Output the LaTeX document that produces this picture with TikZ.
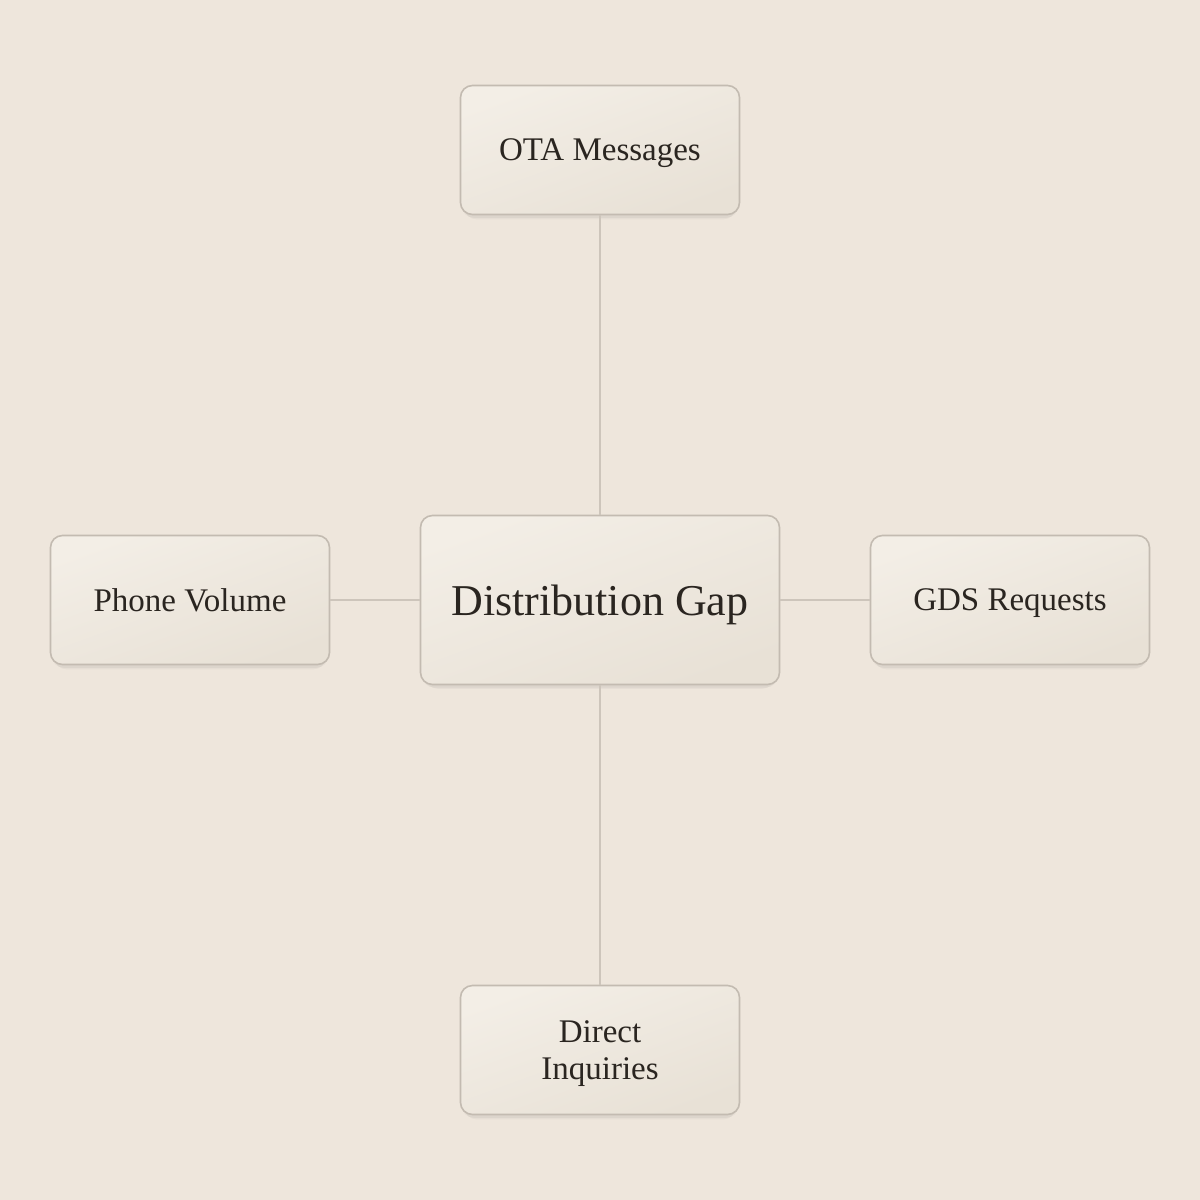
\documentclass[tikz,border=0pt]{standalone}
\usepackage{fontspec}
\setmainfont{Liberation Serif}
\usetikzlibrary{shadows}

\definecolor{paper}{HTML}{EEE6DC}
\definecolor{boxtop}{HTML}{F3EEE6}
\definecolor{boxbot}{HTML}{E8E1D6}
\definecolor{boxline}{HTML}{C3BBB1}
\definecolor{linkline}{HTML}{CDC5BB}
\definecolor{ink}{HTML}{2A2520}

\begin{document}
\begin{tikzpicture}
  [x=1pt,y=-1pt,
   box/.style={draw=boxline,line width=1.6pt,rounded corners=12pt,
     minimum width=279pt,minimum height=129pt,inner sep=0pt,
     top color=boxtop,bottom color=boxbot,shading angle=20,
     text=ink,align=center,text depth=0pt,
     font=\fontsize{33}{37}\selectfont,
     drop shadow={shadow xshift=0pt,shadow yshift=-7pt,
       shadow scale=0.97,opacity=0.03,fill=black},
     drop shadow={shadow xshift=0pt,shadow yshift=-4pt,
       shadow scale=0.99,opacity=0.04,fill=black}},
   hub/.style={box,minimum width=359pt,minimum height=169pt,
     font=\fontsize{44}{50}\selectfont},
   link/.style={draw=linkline,line width=1.5pt}]
  \fill[paper] (0,0) rectangle (1200,1200);
  \node[hub] (gap) at (600,600) {Distribution Gap};
  \node[box] (ota) at (600,150) {OTA Messages};
  \node[box] (phone) at (190,600) {Phone Volume};
  \node[box] (gds) at (1010,600) {GDS Requests};
  \node[box] (direct) at (600,1050) {Direct\\Inquiries};
  \draw[link] (gap) -- (ota);
  \draw[link] (gap) -- (phone);
  \draw[link] (gap) -- (gds);
  \draw[link] (gap) -- (direct);
\end{tikzpicture}
\end{document}
